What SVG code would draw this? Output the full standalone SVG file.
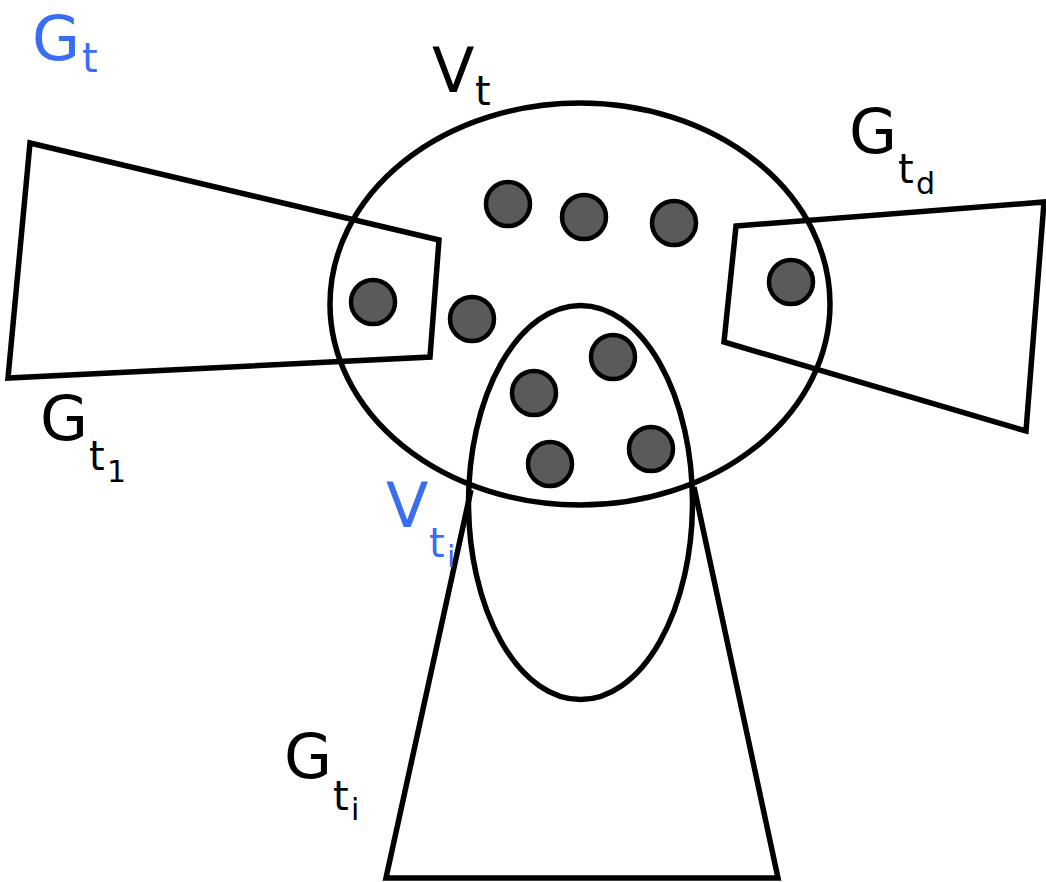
<svg xmlns="http://www.w3.org/2000/svg" width="1046" height="882" viewBox="0 0 1046 882">
<style>
.ln{fill:none;stroke:#000;stroke-width:5.5;stroke-linejoin:miter}
.dot{fill:#5a5a5a;stroke:#000;stroke-width:4.5}
.big{font-family:"DejaVu Sans",sans-serif;font-size:62px}
.sub{font-family:"DejaVu Sans",sans-serif;font-size:40px}
.sub2{font-family:"DejaVu Sans",sans-serif;font-size:30px}
.blue{fill:#3a6cf4}
</style>
<rect width="1046" height="882" fill="#fff"/>
<g id="shapes">
<ellipse class="ln" cx="580" cy="304" rx="250" ry="201"/>
<ellipse class="ln" cx="580.5" cy="502.5" rx="112" ry="197"/>
<polygon id="G_t1" class="ln" points="30,143 439,240 430,357 8,378"/>
<polygon id="G_td" class="ln" points="736,226 1044,202 1026,431 724,342"/>
<polyline id="G_ti" class="ln" points="471,490 386,878 778,878 694,487"/>
</g>
<g id="dots">
<circle class="dot" cx="508" cy="204" r="22"/>
<circle class="dot" cx="584" cy="217" r="22"/>
<circle class="dot" cx="674" cy="223" r="22"/>
<circle class="dot" cx="373" cy="302" r="22"/>
<circle class="dot" cx="472" cy="319" r="22"/>
<circle class="dot" cx="791" cy="282" r="22"/>
<circle class="dot" cx="613" cy="357" r="22"/>
<circle class="dot" cx="534" cy="393" r="22"/>
<circle class="dot" cx="550" cy="464" r="22"/>
<circle class="dot" cx="651" cy="449" r="22"/>
</g>
<g id="labels">
<text class="big blue" x="32" y="60">G</text><text class="sub blue" x="82" y="72">t</text>
<text class="big" x="432" y="92">V</text><text class="sub" x="475" y="105">t</text>
<text class="big" x="40" y="440">G</text><text class="sub" x="89" y="470">t</text><text class="sub2" x="107" y="482">1</text>
<text class="big blue" x="386" y="527">V</text><text class="sub blue" x="429" y="557">t</text><text class="sub2 blue" x="447" y="567">i</text>
<text class="big" x="849" y="153">G</text><text class="sub" x="898" y="183">t</text><text class="sub2" x="916" y="194">d</text>
<text class="big" x="284" y="778">G</text><text class="sub" x="333" y="810">t</text><text class="sub2" x="351" y="820">i</text>
</g>
</svg>
